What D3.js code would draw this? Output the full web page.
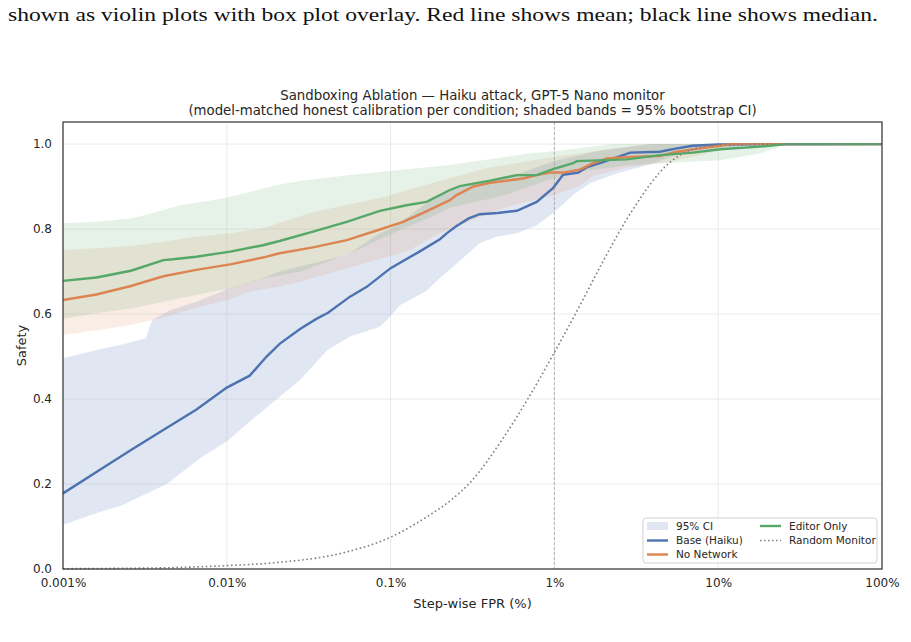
<!DOCTYPE html>
<html>
<head>
<meta charset="utf-8">
<script src="https://cdn.jsdelivr.net/npm/d3@7"></script>
<style>
  body { margin: 0; background: #fff; }
  svg { display: block; }
</style>
</head>
<body>
<div id="chart"></div>
<script>
// values: [FPR in %, safety]
var baseMean = [[0.001,0.178],[0.0017,0.235],[0.0026,0.28],[0.004,0.325],[0.0065,0.375],[0.01,0.427],[0.0138,0.455],
  [0.0175,0.50],[0.021,0.53],[0.028,0.565],[0.035,0.588],[0.0415,0.603],[0.0565,0.641],[0.0715,0.664],[0.1,0.708],
  [0.15,0.747],[0.2,0.776],[0.22,0.79],[0.25,0.806],[0.3,0.825],[0.35,0.835],[0.45,0.838],[0.59,0.843],[0.78,0.864],
  [0.98,0.896],[1.13,0.928],[1.4,0.933],[1.57,0.945],[2.0,0.958],[2.9,0.98],[4.4,0.982],[5.6,0.99],[7.0,0.996],[10,0.999],[100,1.0]];
var baseLo = [[0.001,0.104],[0.0017,0.135],[0.0023,0.15],[0.0043,0.2],[0.0069,0.261],[0.01,0.30],[0.0138,0.347],[0.028,0.445],
  [0.041,0.515],[0.0565,0.547],[0.086,0.57],[0.095,0.586],[0.114,0.621],[0.166,0.655],[0.2,0.685],[0.277,0.732],[0.35,0.767],
  [0.444,0.782],[0.59,0.79],[0.78,0.809],[0.98,0.837],[1.3,0.88],[1.65,0.908],[2.4,0.931],[3.66,0.95],[5.6,0.975],[10,0.99],[20,1.0],[100,1.0]];
var baseHi = [[0.001,0.496],[0.0017,0.518],[0.0024,0.53],[0.0032,0.543],[0.0035,0.586],[0.0045,0.609],[0.0065,0.629],
  [0.0105,0.661],[0.0166,0.685],[0.021,0.70],[0.054,0.739],[0.086,0.79],[0.1,0.80],[0.166,0.861],[0.23,0.89],[0.35,0.91],
  [0.6,0.93],[1.0,0.96],[1.9,0.985],[3.8,1.0],[100,1.0]];

var noNetMean = [[0.001,0.633],[0.0016,0.646],[0.0026,0.666],[0.0041,0.689],[0.0065,0.704],[0.0105,0.717],[0.0166,0.733],
  [0.021,0.743],[0.0336,0.757],[0.054,0.774],[0.086,0.799],[0.119,0.817],[0.158,0.838],[0.2,0.857],[0.23,0.868],[0.253,0.88],
  [0.3186,0.90],[0.4045,0.909],[0.643,0.919],[0.78,0.927],[0.94,0.933],[1.13,0.933],[1.43,0.94],[1.72,0.955],[2.085,0.966],
  [2.89,0.97],[4.41,0.972],[5.59,0.982],[7.74,0.99],[10.26,0.996],[11.8,1.0],[100,1.0]];
var noNetLo = [[0.001,0.551],[0.0016,0.562],[0.0026,0.574],[0.0041,0.592],[0.0065,0.615],[0.0105,0.635],[0.0138,0.653],
  [0.021,0.665],[0.028,0.676],[0.054,0.708],[0.114,0.743],[0.137,0.755],[0.18,0.782],[0.23,0.80],[0.51,0.852],[1.0,0.88],
  [1.4,0.90],[1.72,0.925],[2.76,0.945],[4.41,0.955],[7.0,0.97],[10.3,0.985],[15.6,1.0],[100,1.0]];
var noNetHi = [[0.001,0.751],[0.0016,0.755],[0.0026,0.76],[0.0041,0.77],[0.0065,0.782],[0.0105,0.79],[0.0166,0.802],
  [0.021,0.815],[0.034,0.84],[0.086,0.873],[0.23,0.92],[0.4,0.945],[1.0,0.97],[1.9,0.985],[3.8,1.0],[100,1.0]];

var editorMean = [[0.001,0.678],[0.0016,0.686],[0.0026,0.702],[0.0041,0.727],[0.0047,0.729],[0.0065,0.735],[0.0105,0.747],
  [0.0166,0.762],[0.021,0.772],[0.0336,0.794],[0.054,0.817],[0.086,0.843],[0.125,0.856],[0.166,0.864],[0.23,0.892],
  [0.265,0.901],[0.4045,0.914],[0.589,0.927],[0.78,0.927],[0.98,0.941],[1.3,0.955],[1.37,0.96],[2.76,0.964],[4.41,0.974],
  [7.02,0.98],[10.26,0.988],[18,0.994],[26,1.0],[100,1.0]];
var editorLo = [[0.001,0.589],[0.0016,0.602],[0.0026,0.613],[0.0041,0.629],[0.0065,0.645],[0.0105,0.66],[0.0166,0.684],
  [0.028,0.70],[0.0565,0.743],[0.114,0.798],[0.18,0.83],[0.23,0.85],[0.5,0.88],[1.0,0.92],[1.4,0.935],[2.76,0.95],
  [4.41,0.955],[10.3,0.962],[18,0.978],[24,0.995],[27,1.0],[100,1.0]];
var editorHi = [[0.001,0.814],[0.0016,0.817],[0.0026,0.825],[0.0032,0.833],[0.0052,0.856],[0.0082,0.868],[0.0105,0.876],
  [0.0138,0.887],[0.02,0.903],[0.028,0.913],[0.0565,0.927],[0.114,0.939],[0.23,0.951],[0.7,0.978],[1.43,0.99],[2.28,1.0],[100,1.0]];

var randomMonitor = [[0.001,0.0007],[0.002,0.0014],[0.005,0.0035],[0.01,0.008],[0.02,0.015],[0.05,0.037],[0.1,0.075],
  [0.17,0.125],[0.23,0.16],[0.3,0.2],[0.5,0.315],[0.7,0.405],[1,0.51],[1.5,0.635],[2,0.727],[3,0.845],[5,0.955],
  [7,0.988],[10,0.998],[20,1.0],[100,1.0]];

var xTicks = [0.001, 0.01, 0.1, 1, 10, 100];
var xTickLabels = ["0.001%", "0.01%", "0.1%", "1%", "10%", "100%"];
var yTicks = [0.0, 0.2, 0.4, 0.6, 0.8, 1.0];

var width = 911;
var height = 642;
// plot box in pixels (note: "top" is reserved on window, so prefixed names)
var plotLeft = 63, plotRight = 882, plotTop = 122, plotBottom = 569;
var font = "DejaVu Sans, sans-serif";

var blue = "#4c72b0", orange = "#dd8452", green = "#55a868";

var svg = d3.select("#chart").append("svg")
    .attr("width", width)
    .attr("height", height);

// caption line from the paper above the figure
svg.append("text")
    .attr("x", 8)
    .attr("y", 21)
    .attr("textLength", 870)
    .attr("lengthAdjust", "spacingAndGlyphs")
    .style("font-family", "Liberation Serif, serif")
    .style("font-size", "19px")
    .attr("fill", "#111")
    .text("shown as violin plots with box plot overlay. Red line shows mean; black line shows median.");

var x = d3.scaleLog().domain([0.001, 100]).range([plotLeft, plotRight]);
var y = d3.scaleLinear().domain([0, 1.052]).range([plotBottom, plotTop]);

// grid
svg.append("g").selectAll("line").data(xTicks).enter().append("line")
    .attr("x1", d => x(d)).attr("x2", d => x(d))
    .attr("y1", plotTop).attr("y2", plotBottom)
    .attr("stroke", "#ebebeb").attr("stroke-width", 1);
svg.append("g").selectAll("line").data(yTicks).enter().append("line")
    .attr("x1", plotLeft).attr("x2", plotRight)
    .attr("y1", d => y(d)).attr("y2", d => y(d))
    .attr("stroke", "#ebebeb").attr("stroke-width", 1);

var area = d3.area()
    .x(d => x(d[0]))
    .y0(d => y(d[1]))
    .y1(d => y(d[2]));

function band(lo, hi) {
    // merge lower and upper edges on a shared x grid
    var xs = Array.from(new Set(lo.map(d => d[0]).concat(hi.map(d => d[0])))).sort((a, b) => a - b);
    var interp = function(arr, v) {
        var s = d3.scaleLinear().domain(arr.map(d => Math.log10(d[0]))).range(arr.map(d => d[1]));
        return s(Math.log10(v));
    };
    return xs.map(v => [v, interp(lo, v), interp(hi, v)]);
}

var plot = svg.append("g");

plot.append("path").datum(band(baseLo, baseHi)).attr("d", area)
    .attr("fill", blue).attr("fill-opacity", 0.17);
plot.append("path").datum(band(noNetLo, noNetHi)).attr("d", area)
    .attr("fill", orange).attr("fill-opacity", 0.15);
plot.append("path").datum(band(editorLo, editorHi)).attr("d", area)
    .attr("fill", green).attr("fill-opacity", 0.15);

// 1% reference line
plot.append("line")
    .attr("x1", x(1)).attr("x2", x(1))
    .attr("y1", plotTop).attr("y2", plotBottom)
    .attr("stroke", "#b0b0b0").attr("stroke-width", 1)
    .attr("stroke-dasharray", "3,2");

var line = d3.line()
    .x(d => x(d[0]))
    .y(d => y(d[1]));

plot.append("path").datum(baseMean).attr("d", line)
    .attr("fill", "none").attr("stroke", blue).attr("stroke-width", 2.4);
plot.append("path").datum(noNetMean).attr("d", line)
    .attr("fill", "none").attr("stroke", orange).attr("stroke-width", 2.4);
plot.append("path").datum(editorMean).attr("d", line)
    .attr("fill", "none").attr("stroke", green).attr("stroke-width", 2.4);
plot.append("path").datum(randomMonitor).attr("d", line.curve(d3.curveMonotoneX))
    .attr("fill", "none").attr("stroke", "#7f7f7f").attr("stroke-width", 1.6)
    .attr("stroke-dasharray", "1.6,2.6");

// axes
var xAxis = d3.axisBottom(x)
    .tickValues(xTicks)
    .tickFormat((d, i) => xTickLabels[i])
    .tickSize(0)
    .tickPadding(9);
var gx = svg.append("g")
    .attr("transform", "translate(0," + plotBottom + ")")
    .call(xAxis);
gx.select(".domain").remove();
gx.selectAll("text").style("font-family", font).style("font-size", "12px").attr("fill", "#262626");

var yAxis = d3.axisLeft(y)
    .tickValues(yTicks)
    .tickFormat(d3.format(".1f"))
    .tickSize(0)
    .tickPadding(11);
var gy = svg.append("g")
    .attr("transform", "translate(" + plotLeft + ",0)")
    .call(yAxis);
gy.select(".domain").remove();
gy.selectAll("text").style("font-family", font).style("font-size", "12px").attr("fill", "#262626");

// frame
svg.append("rect")
    .attr("x", plotLeft).attr("y", plotTop)
    .attr("width", plotRight - plotLeft).attr("height", plotBottom - plotTop)
    .attr("fill", "none").attr("stroke", "#3a3a3a").attr("stroke-width", 1.25);

svg.append("text")
    .attr("x", (plotLeft + plotRight) / 2).attr("y", 608)
    .attr("text-anchor", "middle")
    .style("font-family", font).style("font-size", "13px").attr("fill", "#262626")
    .text("Step-wise FPR (%)");

svg.append("text")
    .attr("transform", "translate(26," + ((plotTop + plotBottom) / 2) + ") rotate(-90)")
    .attr("text-anchor", "middle")
    .style("font-family", font).style("font-size", "13px").attr("fill", "#262626")
    .text("Safety");

// title
svg.append("text")
    .attr("x", (plotLeft + plotRight) / 2).attr("y", 100)
    .attr("text-anchor", "middle")
    .style("font-family", font).style("font-size", "13.3px").attr("fill", "#262626")
    .text("Sandboxing Ablation \u2014 Haiku attack, GPT-5 Nano monitor");
svg.append("text")
    .attr("x", (plotLeft + plotRight) / 2).attr("y", 115)
    .attr("text-anchor", "middle")
    .style("font-family", font).style("font-size", "13.3px").attr("fill", "#262626")
    .text("(model-matched honest calibration per condition; shaded bands = 95% bootstrap CI)");

// legend
var legend = svg.append("g");
legend.append("rect")
    .attr("x", 643).attr("y", 518).attr("width", 234).attr("height", 45)
    .attr("rx", 3)
    .attr("fill", "#fff").attr("fill-opacity", 0.8)
    .attr("stroke", "#d0d0d0").attr("stroke-width", 1);

var legendItems = [
    {label: "95% CI", kind: "patch", color: blue, col: 0, row: 0},
    {label: "Base (Haiku)", kind: "line", color: blue, col: 0, row: 1},
    {label: "No Network", kind: "line", color: orange, col: 0, row: 2},
    {label: "Editor Only", kind: "line", color: green, col: 1, row: 0},
    {label: "Random Monitor", kind: "dot", color: "#7f7f7f", col: 1, row: 1}
];
var colX = [647, 760];
var rowY = [526, 540.5, 554.5];

legendItems.forEach(function(d) {
    var hx = colX[d.col], hy = rowY[d.row];
    if (d.kind === "patch") {
        legend.append("rect")
            .attr("x", hx).attr("y", hy - 4).attr("width", 21).attr("height", 8)
            .attr("fill", d.color).attr("fill-opacity", 0.17);
    } else {
        legend.append("line")
            .attr("x1", hx).attr("x2", hx + 21)
            .attr("y1", hy).attr("y2", hy)
            .attr("stroke", d.color)
            .attr("stroke-width", d.kind === "dot" ? 1.5 : 2.4)
            .attr("stroke-dasharray", d.kind === "dot" ? "1.5,2.5" : null);
    }
    legend.append("text")
        .attr("x", hx + 29).attr("y", hy + 3.7)
        .style("font-family", font).style("font-size", "10.5px").attr("fill", "#262626")
        .text(d.label);
});
</script>
</body>
</html>
